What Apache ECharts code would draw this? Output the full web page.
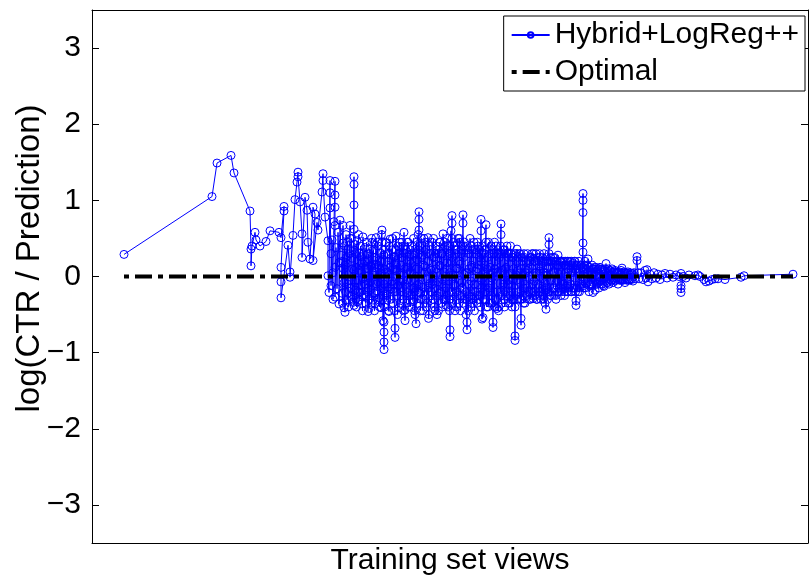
<!DOCTYPE html>
<html>
<head>
<meta charset="utf-8">
<script src="https://cdn.jsdelivr.net/npm/echarts@6/dist/echarts.min.js"></script>
<style>
html, body {margin: 0; padding: 0; background: #fff;}
#chart {width: 810px; height: 577px;}
</style>
</head>
<body>
<div id="chart"></div>
<script>
// each row: [training set views, log ratio, log ratio, ...] (several values = points stacked at one view count)
var earlyRows = [
    [32, 0.29], [120, 1.05], [125, 1.49], [139, 1.59], [142, 1.36], [158, 0.86], [159, 0.36, 0.14],
    [160, 0.40], [163, 0.58], [164, 0.48], [168, 0.40], [174, 0.46], [178, 0.60], [187, 0.58],
    [189, 0.51], [192, 0.92, 0.86], [189, 0.12, -0.07, -0.28], [196, 0.41], [198, 0.06, -0.01],
    [201, 0.54], [203, 1.01], [205, 1.24], [206, 1.37, 1.31], [208, 0.98], [210, 0.56, 0.25],
    [213, 1.04], [215, 0.87], [216, 0.45], [218, 0.23], [221, 0.91], [223, 0.82], [221, 0.21],
    [225, 0.71], [226, 0.61], [230, 1.11], [231, 1.35, 1.26], [233, 0.78], [236, 0.47, 0.01], [237, -0.21]
];

var denseRows = [
    [238, 1.26, 1.10, 0.90], [239, 0.30, -0.12], [240, 0.48], [241, -0.30, 0.05], [242, 0.72],
    [243, 1.25, 1.07, 0.91, 0.67, 0.12, -0.27], [244, 0.38], [245, -0.16], [246, 0.58], [247, 0.18, -0.36],
    [248, 0.74], [249, 0.28], [250, -0.22], [251, 0.67, 0.44], [252, -0.08, -0.41], [253, -0.47, 0.15],
    [254, 0.55], [255, -0.31], [256, 0.36], [257, -0.05], [258, 0.67, 0.50], [259, -0.26], [260, 0.24],
    [261, -0.34], [262, 1.31, 1.21, 0.94, 0.62, 0.08, -0.38],
    [263, 0.42, -0.18], [264, 0.12, -0.29], [265, 0.47], [266, -0.05, -0.33], [267, 0.31, 0.08],
    [268, -0.21], [269, 0.26, -0.12], [270, -0.36, 0.18], [271, 0.52, -0.02], [272, -0.24],
    [273, 0.38, 0.10], [274, -0.27, 0.05], [275, 0.29], [276, -0.46, -0.15], [277, -0.42, 0.22],
    [278, 0.36, -0.08], [279, -0.17, 0.14], [280, 0.45], [281, -0.31, 0.02], [282, 0.21, -0.22],
    [283, -0.36], [284, 0.51, 0.16], [285, -0.19], [286, 0.40, -0.07], [287, -0.28, 0.11], [288, 0.31],
    [289, -0.41, 0.04], [290, 0.61, 0.45, 0.20], [291, -0.25, -0.58], [292, -0.96, -0.86, -0.73, -0.60, -0.10, 0.28],
    [293, -0.19, 0.09], [294, 0.44], [295, -0.31, 0.06], [296, 0.30, -0.14], [297, -0.46], [298, 0.49, 0.12],
    [299, -0.16, 0.24], [300, 0.35, -0.06], [301, -0.35], [302, 0.26, -0.10], [303, -0.80, -0.68, -0.20, 0.18],
    [304, 0.53], [305, -0.25, 0.07], [306, 0.40, -0.12], [307, -0.41], [308, 0.30, 0.02], [309, -0.20, 0.15],
    [310, 0.45], [311, -0.30, -0.05], [312, 0.58, 0.31], [313, -0.58, -0.44, -0.10], [314, 0.35],
    [315, -0.21, 0.12], [316, 0.45, -0.04], [317, -0.40], [318, 0.29, 0.06], [319, -0.25, 0.17], [320, 0.40],
    [321, -0.15, -0.33], [322, 0.28], [323, -0.50, -0.20], [324, -0.62, 0.10], [325, 0.22, -0.11], [326, 0.55],
    [327, 0.85, 0.75, 0.61, 0.30, -0.10], [328, 0.40, -0.22], [329, -0.30], [330, 0.28, 0.04],
    [331, -0.45, -0.14], [332, 0.50], [333, -0.20, 0.13], [334, 0.35], [335, -0.35, -0.03], [336, 0.51, 0.20],
    [337, -0.50], [338, 0.30, -0.09], [339, -0.20, 0.08], [340, 0.45], [341, -0.30, 0.01], [342, 0.25],
    [343, -0.45, -0.16], [344, 0.40, 0.10], [345, -0.50], [346, 0.30, -0.07], [347, -0.22], [348, 0.45, 0.14],
    [349, -0.35], [350, 0.30, -0.04], [351, 0.56], [352, -0.30, 0.06], [353, 0.40], [354, -0.15, -0.38],
    [355, 0.50, 0.18], [356, -0.40], [357, 0.30, -0.10], [358, -0.79, -0.70, -0.30], [359, 0.60, 0.20],
    [360, 0.80, 0.70, 0.50], [361, -0.30, 0.02], [362, 0.40], [363, -0.45, -0.12], [364, 0.35],
    [365, -0.20, 0.11], [366, 0.50], [367, -0.35, -0.05], [368, 0.45, 0.16], [369, -0.25], [370, 0.35, -0.08],
    [371, 0.81, 0.70, 0.40], [372, -0.30, 0.03], [373, 0.40], [374, -0.50, -0.20], [375, -0.70, -0.60, 0.05],
    [376, 0.30], [377, -0.25, 0.10], [378, 0.50], [379, -0.40, -0.06], [380, 0.35, 0.12], [381, -0.30],
    [382, 0.45, -0.02], [383, -0.20], [384, 0.30, 0.07], [385, -0.35], [386, 0.40, -0.11], [387, -0.25, 0.15],
    [388, 0.35], [389, 0.75, 0.60, 0.20], [390, -0.56, -0.15], [391, -0.54, 0.04], [392, 0.30],
    [393, -0.30, -0.06], [394, 0.68, 0.45], [395, 0.10], [396, -0.40], [397, 0.30, -0.08], [398, -0.20, 0.12],
    [399, 0.40], [400, -0.35, -0.02], [401, -0.67, -0.60, 0.05], [402, 0.30], [403, -0.30, 0.10], [404, 0.40],
    [405, -0.20, -0.42], [406, 0.35, 0.06], [407, -0.40], [408, 0.30, -0.09], [409, 0.69, 0.55],
    [410, -0.25, 0.08], [411, 0.35], [412, -0.30, -0.05], [413, 0.30], [414, -0.20, 0.12], [415, 0.40],
    [416, -0.35, -0.10], [417, 0.30], [418, -0.25, 0.04], [419, 0.30], [420, -0.40, -0.12],
    [421, 0.25, -0.05], [422, -0.30], [423, -0.84, -0.78, -0.40], [424, 0.30, 0.02], [425, 0.36],
    [426, -0.20, 0.08], [427, 0.30], [428, -0.30, -0.08], [429, -0.64, -0.55, 0.10], [430, 0.25],
    [431, -0.25, 0.02], [432, 0.30], [433, -0.35, -0.10], [434, 0.20], [435, -0.15, 0.08], [436, 0.21],
    [437, -0.30], [438, 0.25, -0.04], [439, -0.20], [440, 0.30, 0.10], [441, -0.29], [442, 0.20, -0.06],
    [443, -0.25], [444, 0.30, 0.05], [445, -0.30], [446, 0.21, -0.10], [447, -0.20], [448, 0.25, 0.07],
    [449, -0.30], [450, 0.20, -0.03], [451, -0.25], [452, 0.30], [453, -0.35, -0.08], [454, -0.43],
    [455, 0.20, 0.02], [456, -0.20], [457, 0.51, 0.42, 0.30, 0.12], [458, -0.25], [459, 0.20, -0.05],
    [460, -0.20], [461, 0.25, 0.06], [462, -0.15], [463, 0.20], [464, -0.30, -0.08], [465, 0.15], [466, 0.28],
    [467, -0.20, 0.03], [468, 0.20], [469, -0.25], [470, 0.18, -0.06], [471, -0.15], [472, 0.20],
    [473, -0.20, 0.04], [474, 0.15], [475, -0.20], [476, 0.20, -0.03], [477, -0.15], [478, 0.20],
    [479, -0.20, 0.05], [480, 0.15], [481, 0.17], [482, -0.15], [483, 0.20, -0.02], [484, -0.38, -0.32],
    [485, 0.15], [486, -0.20, 0.04], [487, 0.20], [488, -0.15], [489, 0.15], [490, -0.10],
    [491, 1.09, 1.00, 0.84, 0.44, 0.32, 0.10], [492, -0.15], [493, 0.20, -0.04], [494, -0.10], [495, 0.15],
    [496, 0.23], [497, -0.20], [498, 0.12], [499, -0.10], [500, 0.15, 0.02], [501, -0.21], [502, 0.10],
    [503, -0.18], [504, 0.12], [505, -0.10], [506, 0.10], [507, -0.15], [508, 0.12], [509, -0.10], [510, 0.10],
    [511, -0.12], [512, -0.13], [513, 0.10], [514, 0.17], [515, -0.08], [516, 0.10], [517, -0.10], [518, 0.08],
    [519, -0.05], [520, 0.10], [521, -0.08], [522, 0.06], [523, 0.08], [524, -0.05], [525, 0.06], [526, -0.10],
    [527, 0.05], [528, -0.05], [529, 0.08], [530, 0.11], [531, -0.05], [532, 0.06], [533, -0.08], [534, 0.05],
    [535, -0.05], [536, 0.06], [537, -0.05], [538, 0.05], [539, -0.03], [540, 0.04], [541, -0.06], [542, 0.05],
    [543, -0.03], [545, 0.26, 0.21], [546, 0.05], [547, -0.03]
];

// points read between the whole-number view counts of the dense band
var denseRowsHalf = [
    [250.5, -0.35, 0.2], [251.5, 0.1], [252.5, 0.4], [253.5, -0.2], [254.5, 0.25], [255.5, -0.1, 0.45],
    [256.5, -0.4], [257.5, 0.3], [258.5, -0.15], [259.5, 0.5], [260.5, -0.3, 0.1], [261.5, 0.35],
    [262.5, -0.25], [263.5, 0.3, -0.05], [264.5, -0.4], [265.5, 0.2], [266.5, 0.55, -0.2], [267.5, -0.3],
    [268.5, 0.4], [269.5, 0.05], [270.5, -0.45], [271.5, 0.3], [272.5, -0.1, 0.2], [273.5, -0.35],
    [274.5, 0.45], [275.5, -0.2], [276.5, 0.3, 0.1], [277.5, -0.3], [278.5, 0.15], [279.5, 0.5, -0.35],
    [280.5, 0.05], [281.5, 0.35], [282.5, -0.45], [283.5, 0.25], [284.5, -0.1], [285.5, 0.45, -0.3],
    [286.5, 0.15], [287.5, -0.4], [288.5, 0.2], [289.5, -0.15, 0.55], [290.5, -0.3], [291.5, 0.35],
    [292.5, -0.4, 0.1], [293.5, 0.45], [294.5, -0.25], [295.5, 0.3], [296.5, -0.45, 0.05], [297.5, 0.4],
    [298.5, -0.3], [299.5, 0.2, -0.1], [300.5, 0.5], [301.5, 0.1], [302.5, -0.45], [303.5, 0.35],
    [304.5, -0.2, 0.15], [305.5, -0.5], [306.5, 0.3], [307.5, 0.05, 0.45], [308.5, -0.35], [309.5, 0.25],
    [310.5, -0.15], [311.5, 0.4, -0.45], [312.5, 0.1], [313.5, 0.3], [314.5, -0.35], [315.5, 0.45, -0.05],
    [316.5, -0.25], [317.5, 0.2], [318.5, -0.4, 0.35], [319.5, 0.05], [320.5, -0.3], [321.5, 0.5],
    [322.5, -0.15, -0.45], [323.5, 0.3], [324.5, 0.45], [325.5, -0.35], [326.5, 0.1, -0.2], [327.5, 0.35],
    [328.5, -0.45], [329.5, 0.25, 0.5], [330.5, -0.3], [331.5, 0.15], [332.5, -0.25, 0.05], [333.5, 0.45],
    [334.5, -0.4], [335.5, 0.3], [336.5, -0.15, -0.55], [337.5, 0.4], [338.5, 0.1], [339.5, -0.35],
    [340.5, 0.25, -0.1], [341.5, 0.5], [342.5, -0.4], [343.5, 0.3], [344.5, -0.25, 0.05], [345.5, 0.35],
    [346.5, -0.45], [347.5, 0.45, 0.15], [348.5, -0.2], [349.5, 0.3], [350.5, -0.4, -0.1], [351.5, 0.2],
    [352.5, 0.45], [353.5, -0.3], [354.5, 0.1, 0.35], [355.5, -0.25], [356.5, 0.4], [357.5, -0.45, 0.05],
    [358.5, 0.3], [359.5, -0.2], [360.5, 0.25, -0.35], [361.5, 0.45], [362.5, -0.1], [363.5, 0.3],
    [364.5, -0.4, 0.1], [365.5, 0.35], [366.5, -0.25], [367.5, 0.2, 0.5], [368.5, -0.45], [369.5, 0.3],
    [370.5, -0.15], [371.5, 0.25, -0.35], [372.5, 0.45], [373.5, 0.05], [374.5, -0.3], [375.5, 0.35],
    [376.5, -0.45, -0.1], [377.5, 0.3], [378.5, -0.2], [379.5, 0.4, 0.15], [380.5, -0.35], [381.5, 0.2],
    [382.5, -0.1, -0.45], [383.5, 0.35], [384.5, -0.25], [385.5, 0.45, 0.1], [386.5, -0.3], [387.5, 0.25],
    [388.5, -0.4], [389.5, 0.3, -0.05], [390.5, 0.4], [391.5, -0.3], [392.5, 0.15, -0.2], [393.5, 0.35],
    [394.5, -0.4], [395.5, 0.25], [396.5, -0.15, 0.45], [397.5, -0.35], [398.5, 0.3], [399.5, 0.05, -0.25],
    [400.5, 0.35], [401.5, -0.2], [402.5, 0.45, -0.4], [403.5, 0.2], [404.5, -0.3], [405.5, 0.3, 0.05],
    [406.5, -0.45], [407.5, 0.25], [408.5, -0.2, 0.4], [409.5, -0.35], [410.5, 0.3], [411.5, -0.1],
    [412.5, 0.35, -0.4], [413.5, 0.1], [414.5, -0.25], [415.5, 0.3], [416.5, -0.05, 0.25], [417.5, -0.35],
    [418.5, 0.4], [419.5, -0.2], [420.5, 0.25, -0.3], [421.5, 0.1], [422.5, 0.3], [423.5, -0.25],
    [424.5, -0.05, 0.2], [425.5, -0.3], [426.5, 0.25], [427.5, -0.2], [428.5, 0.3, 0.05], [429.5, -0.3],
    [430.5, 0.2], [431.5, -0.15, -0.35], [432.5, 0.25], [433.5, 0.05], [434.5, -0.25], [435.5, 0.3],
    [436.5, -0.2, 0.1], [437.5, 0.2], [438.5, -0.3], [439.5, 0.25], [440.5, -0.1, -0.25], [441.5, 0.3],
    [442.5, -0.2], [443.5, 0.2, 0.05], [444.5, -0.3], [445.5, 0.25], [446.5, -0.15], [447.5, 0.3, -0.25],
    [448.5, 0.1], [449.5, -0.2], [450.5, 0.25], [451.5, 0.05, -0.3], [452.5, 0.2], [453.5, -0.15],
    [454.5, 0.25], [455.5, -0.3, 0.1], [456.5, 0.2], [457.5, -0.2], [458.5, 0.25, -0.05], [459.5, -0.25],
    [460.5, 0.2], [461.5, -0.15], [462.5, 0.25, 0.05], [463.5, -0.25], [464.5, 0.2], [465.5, -0.2, -0.05],
    [466.5, 0.15], [467.5, -0.15], [468.5, 0.2], [469.5, 0.05, -0.2], [470.5, 0.2], [471.5, -0.1],
    [472.5, 0.15, -0.25], [473.5, 0.2], [474.5, -0.15], [475.5, 0.1, 0.2], [476.5, -0.2], [477.5, 0.15],
    [478.5, -0.1], [479.5, 0.2, -0.2], [480.5, 0.05], [481.5, -0.15], [482.5, 0.2], [483.5, -0.2, 0.1],
    [484.5, 0.15], [485.5, -0.15], [486.5, 0.1], [487.5, -0.2, 0.05], [488.5, 0.15], [489.5, -0.1],
    [490.5, 0.12], [491.5, -0.12, 0.08], [492.5, 0.15], [493.5, -0.15], [494.5, 0.1], [495.5, -0.08, 0.05],
    [496.5, 0.12], [497.5, -0.1], [498.5, 0.08], [499.5, -0.12, 0.02], [500.5, 0.1], [501.5, -0.08],
    [502.5, 0.12], [503.5, -0.05, 0.06], [504.5, -0.1], [505.5, 0.08], [506.5, -0.08], [507.5, 0.1, 0.0],
    [508.5, -0.06], [509.5, 0.08], [510.5, -0.1], [511.5, 0.06, -0.02], [512.5, 0.08], [513.5, -0.06],
    [514.5, 0.05], [515.5, -0.08, 0.04], [516.5, 0.06], [517.5, -0.04], [518.5, 0.07], [519.5, -0.06, 0.02],
    [520.5, 0.05], [521.5, -0.04], [522.5, 0.06], [523.5, -0.05], [524.5, 0.04, -0.02], [525.5, 0.05],
    [526.5, -0.04], [527.5, 0.06], [528.5, -0.03, 0.03], [529.5, -0.05], [530.5, 0.04], [531.5, -0.04],
    [532.5, 0.05, 0.0], [533.5, -0.04], [534.5, 0.04], [535.5, -0.03], [536.5, 0.04], [537.5, -0.04, 0.02],
    [538.5, 0.03], [539.5, -0.04], [540.5, 0.04]
];

var tailRows = [
    [549, 0.05], [551, -0.04], [553, 0.08], [554, -0.02], [555, 0.09], [556, -0.07], [558, 0.03], [560, -0.03],
    [562, 0.05], [564, -0.02], [566, 0.03], [568, -0.04], [570, 0.02], [573, 0.04], [575, -0.02], [578, 0.03],
    [581, -0.01], [584, 0.02], [587, 0.00], [589, 0.04, -0.12, -0.16, -0.21], [591, 0.00], [594, -0.02],
    [597, 0.02], [603, 0.01], [606, 0.02], [608, 0.00], [612, -0.04], [614, -0.07], [617, -0.06], [620, -0.04],
    [623, -0.03], [626, -0.03], [633, -0.04], [649, -0.01], [652, 0.01], [701, 0.03]
];

var optimalRows = [[32, 0], [701, 0]];

var fontName = "'Liberation Sans', Arial, Helvetica, sans-serif";
var optimalDash = [5, 6, 17, 6];

var toPoints = function (rows) {
    var pts = [];
    for (var i = 0; i < rows.length; i++) {
        for (var j = 1; j < rows[i].length; j++) {
            pts.push([rows[i][0], rows[i][j]]);
        }
    }
    return pts;
};

// merge the two dense lists in order of views
var denseAll = denseRows.concat(denseRowsHalf).sort(function (a, b) {
    return a[0] - b[0];
});

var hybridPoints = toPoints(earlyRows).concat(toPoints(denseAll), toPoints(tailRows));
var optimalPoints = toPoints(optimalRows);

var chart = echarts.init(document.getElementById('chart'));

var yTickLabel = function (v) {
    if (Math.round(v) !== v) return '';
    return String(v).replace('-', '\u2212');
};

var boxLine = {show: true, onZero: false, lineStyle: {color: '#000', width: 1}};

var option = {
    animation: false,
    backgroundColor: '#fff',
    grid: {left: 92, right: 2, top: 10, bottom: 34, containLabel: false, outerBoundsMode: 'none'},
    legend: {
        orient: 'vertical',
        right: 5,
        top: 16,
        padding: [4, 6, 4, 6],
        itemGap: 7,
        itemWidth: 38,
        itemHeight: 7,
        backgroundColor: '#fff',
        borderColor: '#000',
        borderWidth: 1,
        borderRadius: 0,
        textStyle: {fontSize: 30, color: '#000', fontFamily: fontName},
        data: [
            {name: 'Hybrid+LogReg++'},
            {
                name: 'Optimal',
                itemStyle: {color: 'rgba(0,0,0,0)', borderWidth: 0},
                lineStyle: {color: '#000', width: 4, type: optimalDash}
            }
        ]
    },
    xAxis: [{
        type: 'value',
        min: 0,
        max: 716,
        axisLine: boxLine,
        axisTick: {show: false},
        axisLabel: {show: false},
        splitLine: {show: false},
        name: 'Training set views',
        nameLocation: 'middle',
        nameGap: 3,
        nameMoveOverlap: false,
        nameTextStyle: {fontSize: 30, color: '#000', fontFamily: fontName, verticalAlign: 'top'}
    }, {
        type: 'value',
        position: 'top',
        min: 0,
        max: 716,
        axisLine: boxLine,
        axisTick: {show: false},
        axisLabel: {show: false},
        splitLine: {show: false}
    }],
    yAxis: [{
        type: 'value',
        min: -3.5,
        max: 3.5,
        splitNumber: 7,
        axisLine: boxLine,
        axisTick: {show: true, inside: true, length: 7, lineStyle: {color: '#000'}},
        axisLabel: {
            showMinLabel: false, showMaxLabel: false, margin: 11,
            fontSize: 30, color: '#000', fontFamily: fontName, formatter: yTickLabel
        },
        splitLine: {show: false},
        name: 'log(CTR / Prediction)',
        nameLocation: 'middle',
        nameGap: 46,
        nameMoveOverlap: false,
        nameTextStyle: {fontSize: 33, color: '#000', fontFamily: fontName, padding: [0, 0, 0, 36]}
    }, {
        type: 'value',
        position: 'right',
        min: -3.5,
        max: 3.5,
        splitNumber: 7,
        axisLine: boxLine,
        axisTick: {show: true, inside: true, length: 7, lineStyle: {color: '#000'}},
        axisLabel: {show: false},
        splitLine: {show: false}
    }],
    series: [{
        name: 'Hybrid+LogReg++',
        type: 'line',
        data: hybridPoints,
        symbol: 'circle',
        symbolSize: 8,
        showAllSymbol: true,
        lineStyle: {color: '#0000ff', width: 1},
        itemStyle: {color: 'rgba(0,0,0,0)', borderColor: '#0000ff', borderWidth: 1},
        z: 2
    }, {
        name: 'Optimal',
        type: 'line',
        data: optimalPoints,
        symbol: 'none',
        lineStyle: {color: '#000', width: 4, type: optimalDash},
        itemStyle: {color: 'rgba(0,0,0,0)'},
        z: 3
    }]
};

chart.setOption(option);
</script>
</body>
</html>
